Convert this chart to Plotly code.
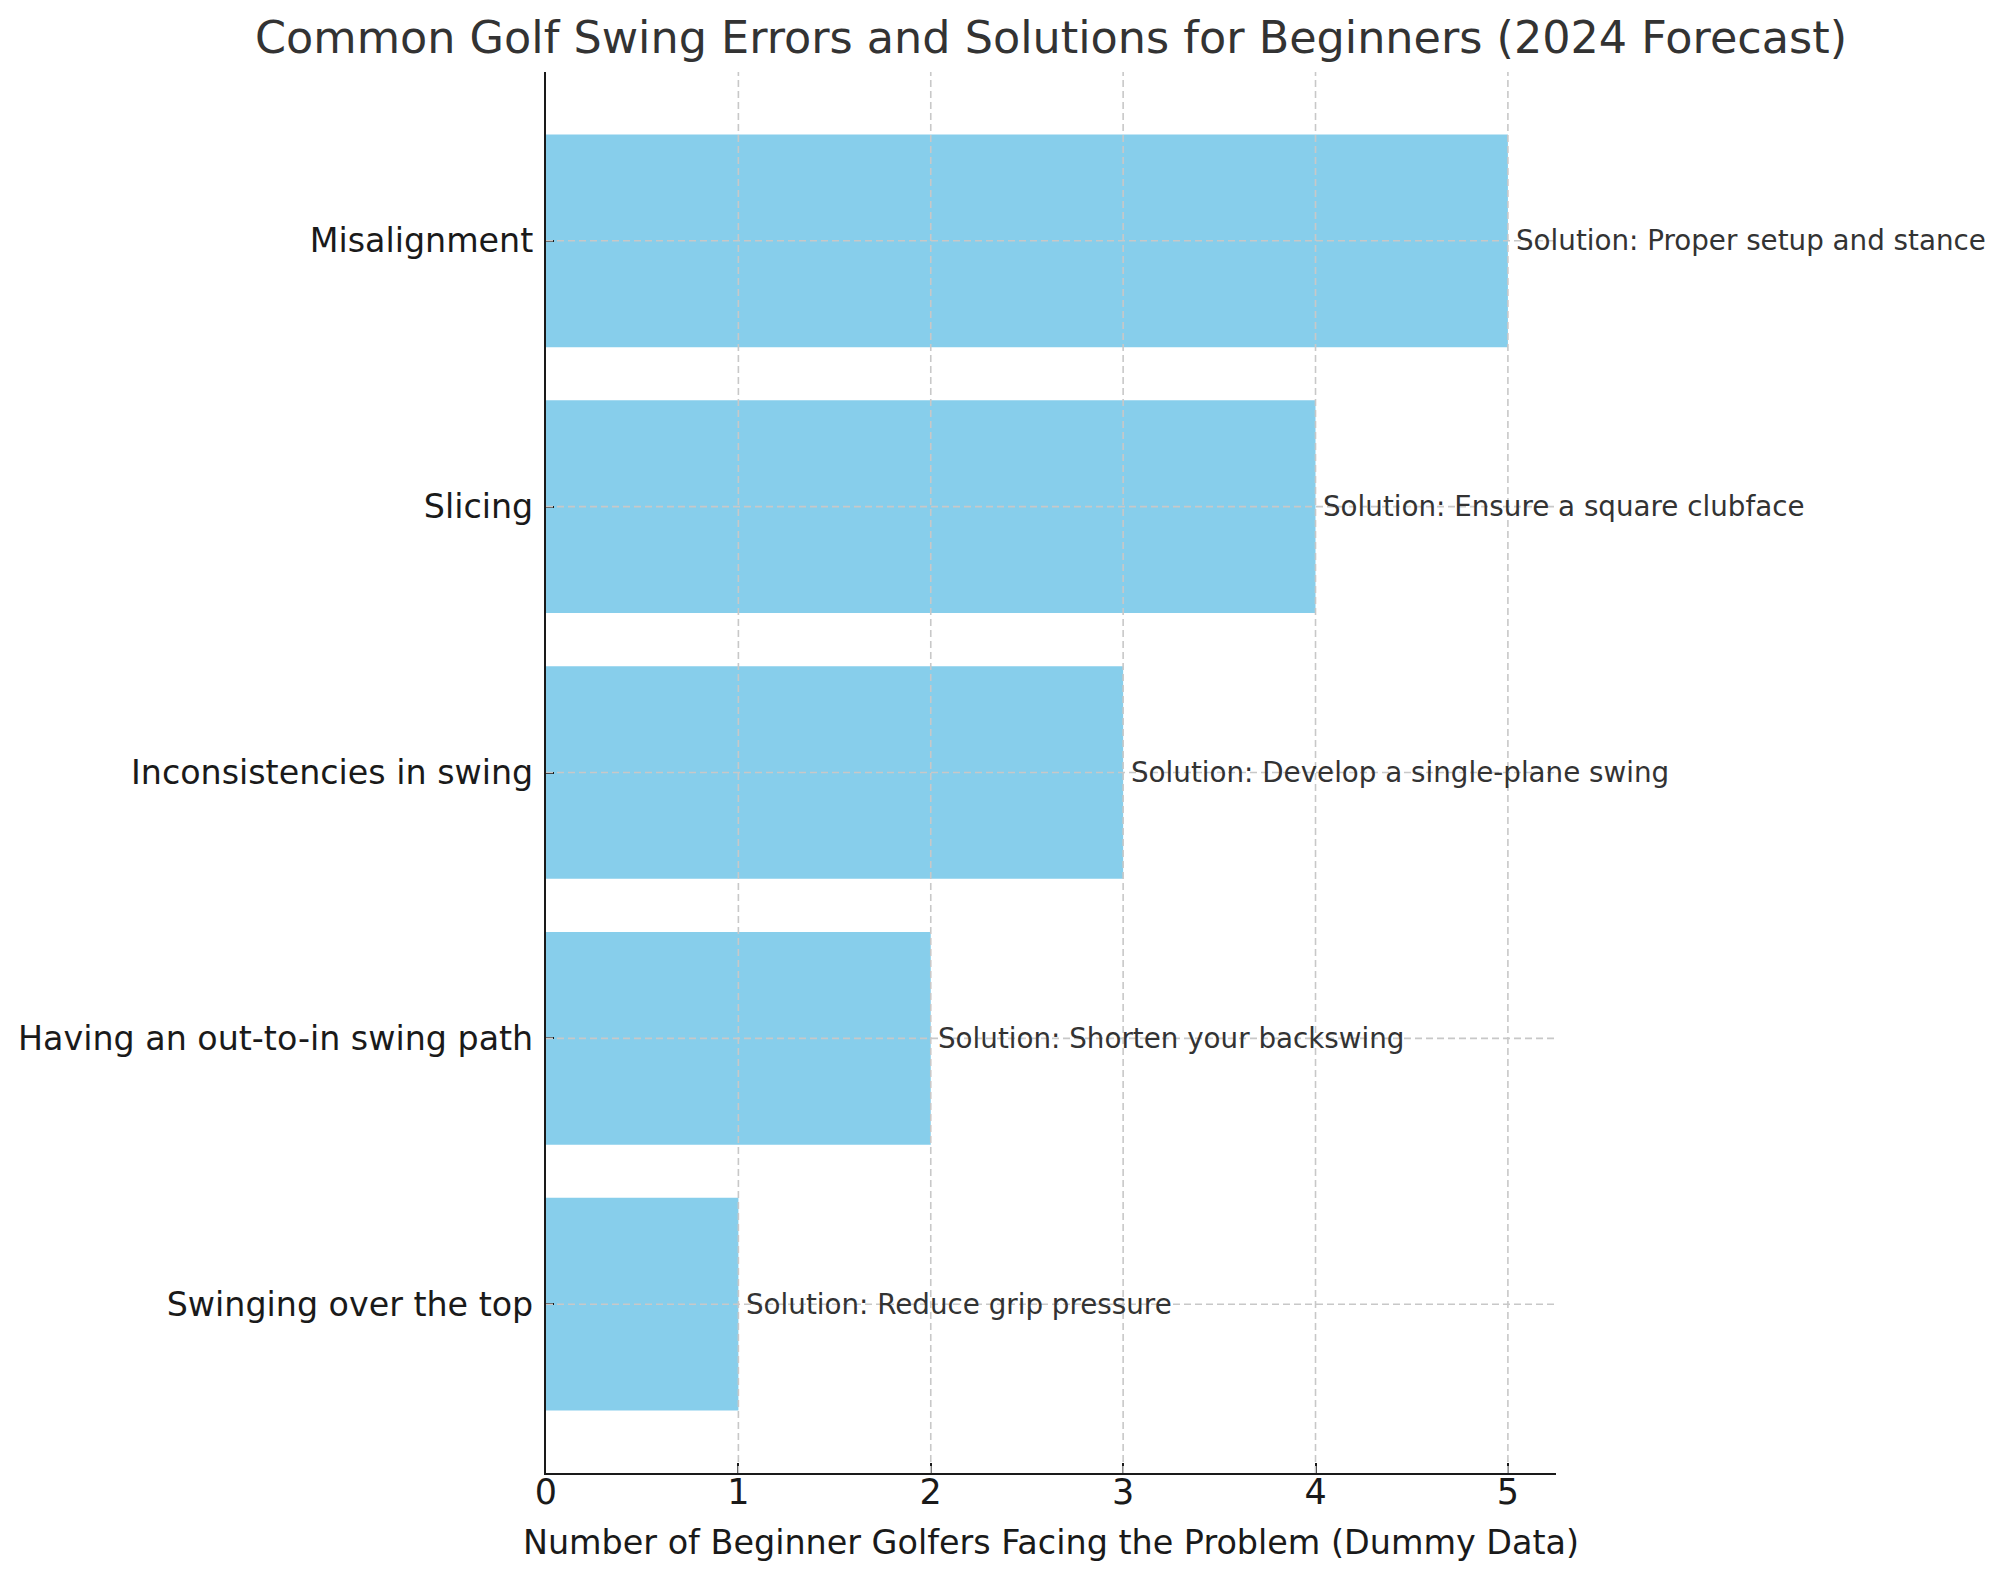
import plotly.graph_objects as go

errors = ["Swinging over the top", "Having an out-to-in swing path",
          "Inconsistencies in swing", "Slicing", "Misalignment"]
counts = [1, 2, 3, 4, 5]
solutions = ["Solution: Reduce grip pressure", "Solution: Shorten your backswing",
             "Solution: Develop a single-plane swing", "Solution: Ensure a square clubface",
             "Solution: Proper setup and stance"]
x_ticks = [0, 1, 2, 3, 4, 5]

FONT = "DejaVu Sans"
GRID = "#c8c8c8"

fig = go.Figure()
fig.add_trace(go.Bar(
    y=errors, x=counts, orientation="h", width=0.8,
    marker=dict(color="#87CEEB", line=dict(width=0)),
    hoverinfo="skip", showlegend=False,
))

shapes = []
for t in x_ticks[1:]:
    shapes.append(dict(type="line", xref="x", yref="y domain", x0=t, x1=t, y0=0, y1=1,
                       line=dict(color=GRID, width=1.6, dash="7px,4px"), layer="above"))
for e in errors:
    shapes.append(dict(type="line", xref="x domain", yref="y", x0=0, x1=1, y0=e, y1=e,
                       line=dict(color=GRID, width=1.6, dash="7px,4px"), layer="above"))

annotations = []
for e, c, s in zip(errors, counts, solutions):
    annotations.append(dict(x=c + 0.05, y=e, xref="x", yref="y", text=s, showarrow=False,
                            xanchor="left", yanchor="middle", xshift=-4,
                            font=dict(family=FONT, size=27.75, color="#333333")))

L, R, T, B = 538, 457, 64, 115
fig.update_layout(
    width=2005, height=1580,
    margin=dict(l=L, r=R, t=T, b=B, autoexpand=False),
    paper_bgcolor="white", plot_bgcolor="white",
    title=dict(text="Common Golf Swing Errors and Solutions for Beginners (2024 Forecast)",
               x=(L + (2005 - R)) / 2 / 2005, xanchor="center",
               y=1 - 29 / 1580, yanchor="middle", yref="container",
               font=dict(family=FONT, size=44.5, color="#333333")),
    shapes=shapes, annotations=annotations,
    bargap=0.2,
)
fig.update_xaxes(
    range=[0, 5.25], tickvals=x_ticks, ticktext=[str(v) for v in x_ticks],
    showgrid=False, zeroline=False,
    showline=True, linecolor="#1a1a1a", linewidth=2.2,
    ticks="inside", ticklen=10, tickwidth=2, tickcolor="#1a1a1a",
    ticklabelstandoff=-13,
    tickfont=dict(family=FONT, size=35, color="#1a1a1a"),
    title=dict(text="Number of Beginner Golfers Facing the Problem (Dummy Data)",
               font=dict(family=FONT, size=33.4, color="#1a1a1a"), standoff=20),
    automargin=False,
)
fig.update_yaxes(
    categoryorder="array", categoryarray=errors, range=[-0.635, 4.635],
    showgrid=False, zeroline=False,
    showline=True, linecolor="#1a1a1a", linewidth=2.2,
    ticks="inside", ticklen=8, tickwidth=2, tickcolor="#1a1a1a",
    ticklabelstandoff=4,
    tickfont=dict(family=FONT, size=33.3, color="#1a1a1a"),
    automargin=False,
)

fig.write_html("out.html")
